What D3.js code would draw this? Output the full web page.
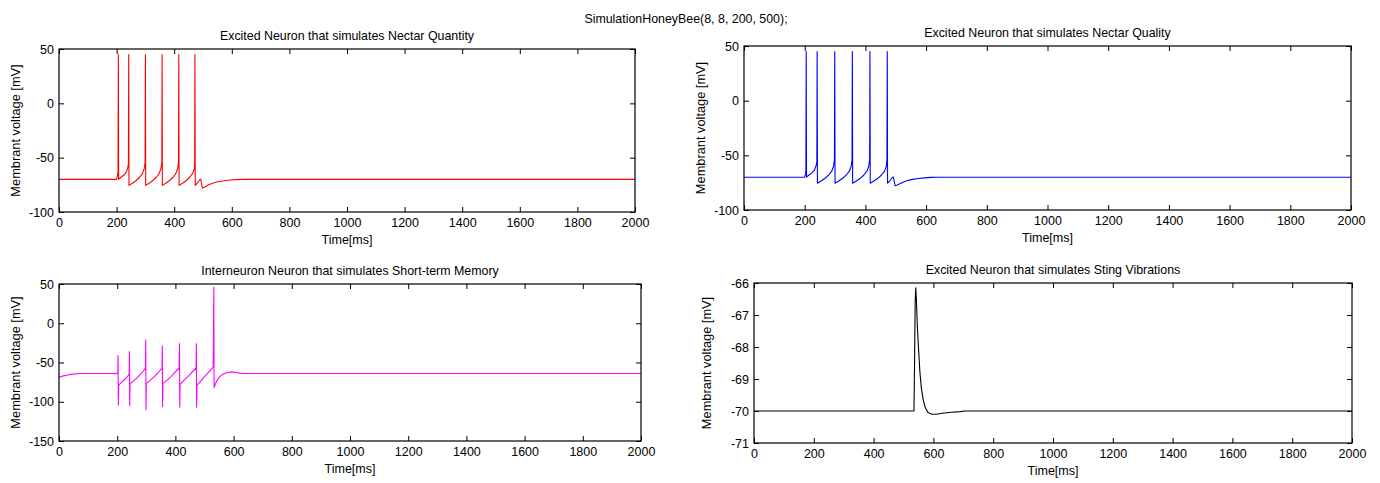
<!DOCTYPE html>
<html>
<head>
<meta charset="utf-8">
<script src="https://cdn.jsdelivr.net/npm/d3@7"></script>
<style>
  body { margin: 0; background: #fff; }
  svg { display: block; font-family: "Liberation Sans", Arial, sans-serif; }
</style>
</head>
<body>
<script>
// ===== data =====

const suptitle = "SimulationHoneyBee(8, 8, 200, 500);"
const xLabel = "Time[ms]"
const yLabel = "Membrant voltage [mV]"

const xTicks = [0, 200, 400, 600, 800, 1000, 1200, 1400, 1600, 1800, 2000]
const yTicksNectar = [-100, -50, 0, 50]
const yTicksMemory = [-150, -100, -50, 0, 50]
const yTicksSting = [-71, -70, -69, -68, -67, -66]

// [time ms, voltage mV]
const quantityTrace = [
  [0, -70], [200, -70], [201, -68.5], [203, -67], [205, -63], [206, 45], [207, -70],
  [215, -68], [225, -66], [233, -63.5], [238, -60], [241, -56], [242, 45], [243, -75.5],
  [255, -73.5], [268, -71], [280, -68], [290, -64.5], [296, -60], [299, -54], [300, 45], [301, -75.5],
  [313, -73.5], [326, -71], [338, -68], [348, -64.5], [354, -60], [357, -54], [358, 45], [359, -75.5],
  [371, -73.5], [384, -71], [396, -68], [406, -64.5], [412, -60], [415, -54], [416, 45], [417, -75.5],
  [429, -73.5], [442, -71], [454, -68], [464, -64.5], [470, -60], [471, -54], [472, 45], [473, -75.5],
  [480, -73.5], [488, -70.5], [492, -69.8], [495, -74], [498, -77.8], [505, -77.2],
  [520, -75], [536, -73.3], [555, -72], [575, -71.2], [595, -70.6], [615, -70.2], [640, -70], [2000, -70]
]

const qualityTrace = [
  [0, -70], [200, -70], [201, -68.5], [203, -67], [204, -63], [205, 45], [206, -70],
  [214, -68], [224, -66], [232, -63.5], [237, -60], [240, -56], [241, 45], [242, -75.5],
  [254, -73.5], [267, -71], [279, -68], [289, -64.5], [295, -60], [298, -54], [299, 45], [300, -75.5],
  [312, -73.5], [325, -71], [337, -68], [347, -64.5], [353, -60], [356, -54], [357, 45], [358, -75.5],
  [370, -73.5], [383, -71], [395, -68], [405, -64.5], [411, -60], [414, -54], [415, 45], [416, -75.5],
  [428, -73.5], [441, -71], [453, -68], [463, -64.5], [469, -60], [471, -54], [472, 45], [473, -75.5],
  [480, -73.5], [488, -70.5], [492, -69.8], [495, -74], [498, -77.8], [505, -77.2],
  [520, -75], [536, -73.3], [555, -72], [575, -71.2], [595, -70.6], [615, -70.2], [640, -70], [2000, -70]
]

const memoryTrace = [
  [0, -69], [15, -67], [35, -65.5], [60, -64.3], [80, -64], [202, -64],
  [203, -41], [204, -104], [205, -79], [215, -75], [225, -72], [235, -68], [241, -65],
  [242, -36], [243, -105], [244, -77], [255, -74], [270, -69], [285, -63], [297, -57],
  [298, -21], [299, -110], [300, -77], [312, -73], [328, -68], [343, -62], [354, -57],
  [355, -29], [356, -106], [357, -77], [370, -73], [385, -68], [400, -62], [413, -57],
  [414, -26], [415, -107], [416, -78], [428, -73], [443, -68], [458, -62], [471, -57],
  [472, -26], [473, -107], [474, -79], [486, -74], [500, -68], [515, -62], [530, -56],
  [532, 46], [533, -82], [540, -75], [550, -69], [560, -65.5], [575, -63], [590, -62],
  [605, -62.5], [620, -63.5], [640, -64], [2000, -64]
]

const stingTrace = [
  [0, -70], [535, -70], [537, -68.5], [539, -66.6], [541, -66.15], [543, -66.5], [546, -67.3],
  [550, -68.0], [555, -68.8], [560, -69.3], [566, -69.65], [573, -69.9], [582, -70.05],
  [595, -70.1], [610, -70.1], [630, -70.07], [660, -70.04], [690, -70.02], [705, -70], [2000, -70]
]

// ===== layout =====

const width = 1380, height = 483

const panels = [
  { title: "Excited Neuron that simulates Nectar Quantity", trace: quantityTrace, color: "#ff0000",
    yDomain: [-100, 50], yTicks: yTicksNectar, left: 59, top: 49, right: 635, bottom: 212, ylabelX: 16 },
  { title: "Excited Neuron that simulates Nectar Quality", trace: qualityTrace, color: "#0000ff",
    yDomain: [-100, 50], yTicks: yTicksNectar, left: 744, top: 46, right: 1351, bottom: 210, ylabelX: 701 },
  { title: "Interneuron Neuron that simulates Short-term Memory", trace: memoryTrace, color: "#ff00ff",
    yDomain: [-150, 50], yTicks: yTicksMemory, left: 59, top: 284, right: 641, bottom: 441, ylabelX: 16 },
  { title: "Excited Neuron that simulates Sting Vibrations", trace: stingTrace, color: "#000000",
    yDomain: [-71, -66], yTicks: yTicksSting, left: 754, top: 283, right: 1352, bottom: 443, ylabelX: 707 }
]

const svg = d3.select("body").append("svg")
  .attr("width", width)
  .attr("height", height)

svg.append("text")
  .attr("x", 686)
  .attr("y", 23)
  .attr("text-anchor", "middle")
  .attr("font-size", "12.4px")
  .text(suptitle)

const tick = 5
const fmt = d => String(d).replace("-", "-")

panels.forEach((p, i) => {
  const w = p.right - p.left
  const h = p.bottom - p.top
  const x = d3.scaleLinear().domain([0, 2000]).range([0, w])
  const y = d3.scaleLinear().domain(p.yDomain).range([h, 0])

  const g = svg.append("g").attr("transform", `translate(${p.left},${p.top})`)

  g.append("clipPath").attr("id", "clip" + i)
    .append("rect").attr("width", w).attr("height", h)

  const line = d3.line()
    .x(d => x(d[0]))
    .y(d => y(d[1]))

  g.append("path")
    .datum(p.trace)
    .attr("clip-path", `url(#clip${i})`)
    .attr("fill", "none")
    .attr("stroke", p.color)
    .attr("stroke-width", 1.1)
    .attr("stroke-linejoin", "round")
    .attr("d", line)

  // MATLAB style: ticks inward on all four sides
  const axes = [
    [d3.axisBottom(x).tickValues(xTicks).tickPadding(6), `translate(0,${h})`, true],
    [d3.axisTop(x).tickValues(xTicks), "translate(0,0)", false],
    [d3.axisLeft(y).tickValues(p.yTicks).tickPadding(5), "translate(0,0)", true],
    [d3.axisRight(y).tickValues(p.yTicks), `translate(${w},0)`, false]
  ]
  axes.forEach(([axis, tr, labelled]) => {
    axis.tickSizeInner(-tick).tickSizeOuter(0)
    axis.tickFormat(labelled ? fmt : () => "")
    const a = g.append("g").attr("transform", tr).call(axis)
    a.select(".domain").remove()
    a.selectAll("line").attr("stroke", "#000")
    a.selectAll("text").attr("fill", "#000").attr("font-size", "12.5px")
      .attr("font-family", "Liberation Sans, Arial, sans-serif")
  })

  g.append("rect")
    .attr("width", w)
    .attr("height", h)
    .attr("fill", "none")
    .attr("stroke", "#000")
    .attr("stroke-width", 1.2)

  g.append("text")
    .attr("x", w / 2)
    .attr("y", -9)
    .attr("text-anchor", "middle")
    .attr("font-size", "12.4px")
    .text(p.title)

  g.append("text")
    .attr("x", w / 2)
    .attr("y", h + 32)
    .attr("text-anchor", "middle")
    .attr("font-size", "12.5px")
    .text(xLabel)

  svg.append("text")
    .attr("transform", `translate(${p.ylabelX},${p.top + h / 2}) rotate(-90)`)
    .attr("text-anchor", "middle")
    .attr("dy", "0.35em")
    .attr("font-size", "12.8px")
    .text(yLabel)
})
</script>
</body>
</html>
